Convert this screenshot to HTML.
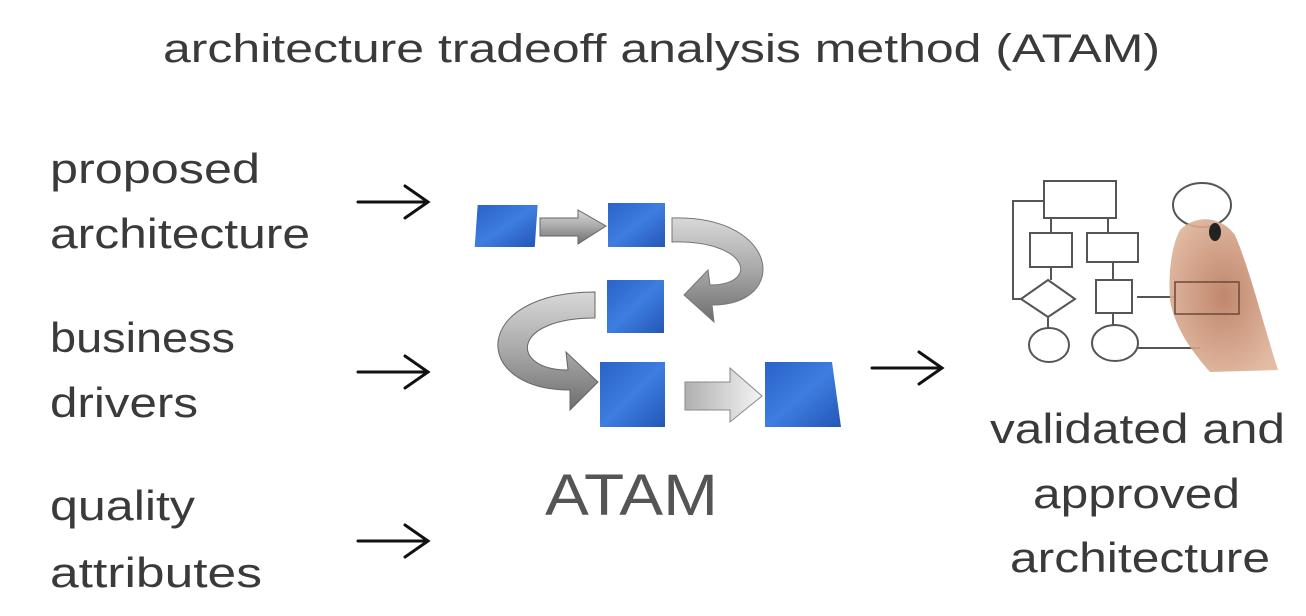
<!DOCTYPE html>
<html><head><meta charset="utf-8"><style>
html,body{margin:0;padding:0;background:#fff;}
svg{display:block;}
text{font-family:"Liberation Sans",sans-serif;fill:#3a3a3a;}
</style></head><body>
<svg width="1306" height="616" viewBox="0 0 1306 616" xmlns="http://www.w3.org/2000/svg">
<defs>
<linearGradient id="blue" x1="0" y1="0" x2="1" y2="1">
<stop offset="0" stop-color="#2a62c8"/><stop offset="0.5" stop-color="#3d7ee0"/><stop offset="1" stop-color="#2456b5"/>
</linearGradient>
<linearGradient id="gray" x1="0" y1="0" x2="0" y2="1">
<stop offset="0" stop-color="#d8d8d8"/><stop offset="0.5" stop-color="#a8a8a8"/><stop offset="1" stop-color="#6e6e6e"/>
</linearGradient>
<linearGradient id="gray2" x1="0" y1="0" x2="1" y2="0">
<stop offset="0" stop-color="#b0b0b0"/><stop offset="1" stop-color="#f4f4f4"/>
</linearGradient>
<radialGradient id="skin" cx="0.5" cy="0.5" r="0.6">
<stop offset="0" stop-color="#b97a5c"/><stop offset="1" stop-color="#e0b49a"/>
</radialGradient>
</defs>

<text x="163" y="62" font-size="40" textLength="997" lengthAdjust="spacingAndGlyphs">architecture tradeoff analysis method (ATAM)</text>

<g font-size="42">
<text x="50" y="183" textLength="210" lengthAdjust="spacingAndGlyphs">proposed</text>
<text x="50" y="248" textLength="260" lengthAdjust="spacingAndGlyphs">architecture</text>
<text x="50" y="352" textLength="185" lengthAdjust="spacingAndGlyphs">business</text>
<text x="50" y="417" textLength="148" lengthAdjust="spacingAndGlyphs">drivers</text>
<text x="50" y="520" textLength="145" lengthAdjust="spacingAndGlyphs">quality</text>
<text x="50" y="587" textLength="212" lengthAdjust="spacingAndGlyphs">attributes</text>
<text x="990" y="443" textLength="295" lengthAdjust="spacingAndGlyphs">validated and</text>
<text x="1033" y="508" textLength="207" lengthAdjust="spacingAndGlyphs">approved</text>
<text x="1010" y="572" textLength="260" lengthAdjust="spacingAndGlyphs">architecture</text>
</g>

<g stroke="#111" stroke-width="3" fill="none" stroke-linecap="round">
<path d="M358 202 H427 M405 186 L428 202 L405 218"/>
<path d="M358 372 H427 M405 356 L428 372 L405 388"/>
<path d="M358 541 H427 M405 525 L428 541 L405 557"/>
<path d="M872 368 H941 M919 352 L942 368 L919 384"/>
</g>

<!-- center graphic -->
<path d="M540 218 H578 V210 L606 226 L578 244 V236 H540 Z" fill="url(#gray)" stroke="#666"/>
<path d="M672 218 C780 215 790 305 712 305 L714 322 L684 295 L708 270 L710 285 C760 285 750 240 672 242 Z" fill="url(#gray)" stroke="#777"/>
<path d="M595 292 C470 292 470 390 570 390 L570 410 L598 382 L566 352 L568 370 C510 370 510 318 595 318 Z" fill="url(#gray)" stroke="#666"/>
<path d="M685 382 H730 V368 L762 396 L730 422 V410 H685 Z" fill="url(#gray2)" stroke="#888"/>
<rect x="477" y="205" width="60" height="42" fill="url(#blue)" transform="skewX(-4) translate(15,0)"/>
<rect x="608" y="203" width="57" height="44" fill="url(#blue)"/>
<rect x="607" y="280" width="57" height="53" fill="url(#blue)"/>
<rect x="600" y="362" width="65" height="65" fill="url(#blue)"/>
<path d="M765 362 H832 L841 427 H765 Z" fill="url(#blue)"/>
<text x="545" y="515" font-size="58" fill="#555" style="fill:#555" textLength="173" lengthAdjust="spacingAndGlyphs">ATAM</text>

<!-- flowchart -->
<g stroke="#555" stroke-width="2" fill="none">
<rect x="1044" y="181" width="72" height="37"/>
<rect x="1030" y="233" width="42" height="34"/>
<rect x="1087" y="233" width="51" height="29"/>
<path d="M1048 280 L1075 299 L1048 317 L1021 299 Z"/>
<rect x="1096" y="280" width="36" height="33"/>
<ellipse cx="1049" cy="345" rx="20" ry="17"/>
<ellipse cx="1115" cy="343" rx="23" ry="18"/>
<ellipse cx="1202" cy="205" rx="29" ry="22"/>
<path d="M1051 218 V233 M1108 218 V233 M1051 267 V280 M1113 262 V280 M1048 317 V328 M1113 313 V325 M1021 299 H1013 V201 H1044 M1137 297 H1175 M1138 348 H1200"/>
</g>
<path d="M1180 230 C1195 215 1220 215 1235 235 C1250 270 1262 320 1278 370 L1210 372 C1195 355 1175 330 1170 300 C1168 270 1172 245 1180 230 Z" fill="url(#skin)" opacity="0.9"/>
<rect x="1175" y="282" width="64" height="32" fill="none" stroke="#6b4a3a" stroke-width="1.5"/>
<ellipse cx="1215" cy="232" rx="6" ry="9" fill="#222"/>
</svg>
</body></html>
